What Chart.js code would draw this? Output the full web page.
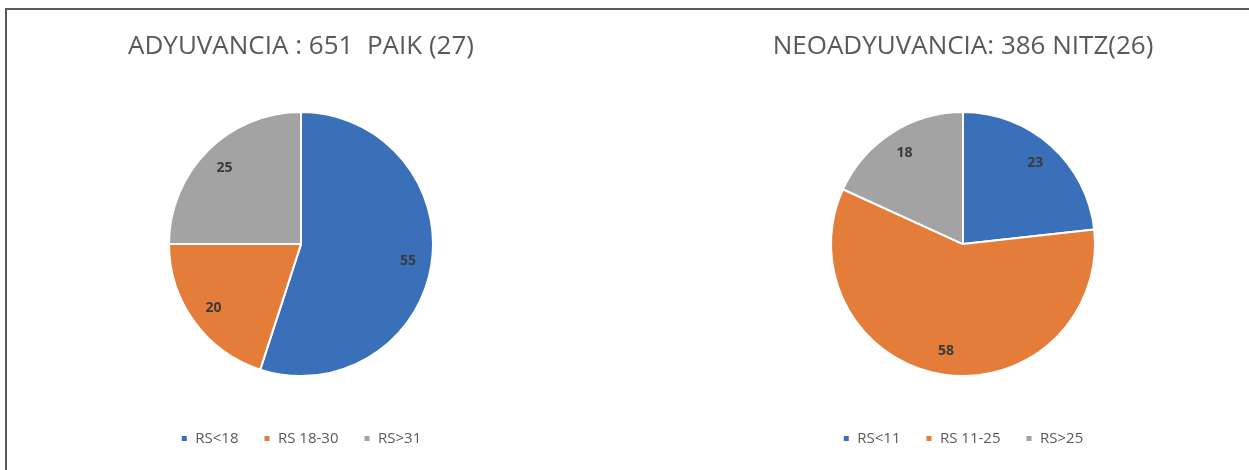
<!DOCTYPE html>
<html>
<head>
<meta charset="utf-8">
<script src="https://cdn.jsdelivr.net/npm/chart.js@4"></script>
<style>
  html, body { margin: 0; padding: 0; background: #fff; }
  body { width: 1249px; height: 470px; position: relative; overflow: hidden; }
  #marco {
    position: absolute; left: 5px; top: 8px; right: 0; bottom: 0;
    border-top: 2px solid #5a5a5a; border-left: 2px solid #5a5a5a;
  }
  canvas { position: absolute; top: 10px; }
  #pieAdy { left: 21px; }
  #pieNeo { left: 683px; }
</style>
</head>
<body>
<div id="marco"></div>
<canvas id="pieAdy" width="560" height="446"></canvas>
<canvas id="pieNeo" width="560" height="446"></canvas>
<script>
// Datos
const adyLabels = ['RS<18', 'RS 18-30', 'RS>31'];
const adyValues = [55, 20, 25];
const neoLabels = ['RS<11', 'RS 11-25', 'RS>25'];
const neoValues = [23, 58, 18];
const titulos = ['ADYUVANCIA : 651  PAIK (27)', 'NEOADYUVANCIA: 386 NITZ(26)'];
const colores = ['#3a70ba', '#e57d3a', '#a3a3a3'];

const fuente = "'Open Sans', 'Liberation Sans', sans-serif";

// Etiquetas de valor dentro de cada sector
const etiquetasValor = {
    id: 'etiquetasValor',
    afterDatasetsDraw(chart) {
        const ctx = chart.ctx;
        const meta = chart.getDatasetMeta(0);
        const data = chart.data.datasets[0].data;
        ctx.save();
        ctx.font = 'bold 14px ' + fuente;
        ctx.fillStyle = '#3a3a3a';
        ctx.textAlign = 'center';
        ctx.textBaseline = 'middle';
        meta.data.forEach((arc, i) => {
            const p = arc.getProps(['x', 'y', 'startAngle', 'endAngle', 'outerRadius'], true);
            const a = (p.startAngle + p.endAngle) / 2;
            const r = p.outerRadius * 0.82;
            ctx.fillText(String(data[i]), p.x + Math.cos(a) * r, p.y + Math.sin(a) * r);
        });
        ctx.restore();
    }
};

function crearPie(id, labels, values, titulo) {
    const ctx = document.getElementById(id).getContext('2d');
    return new Chart(ctx, {
        type: 'pie',
        data: {
            labels: labels,
            datasets: [{
                data: values,
                backgroundColor: colores,
                borderColor: '#ffffff',
                borderWidth: 2,
                radius: 132
            }]
        },
        options: {
            responsive: false,
            animation: false,
            layout: { padding: 0 },
            plugins: {
                title: {
                    display: true,
                    text: titulo,
                    color: '#595959',
                    font: { family: fuente, size: 26, weight: 'normal', lineHeight: 1.2 },
                    padding: { top: 21, bottom: 20 }
                },
                legend: {
                    position: 'bottom',
                    labels: {
                        color: '#595959',
                        font: { family: fuente, size: 15 },
                        boxWidth: 7,
                        boxHeight: 7,
                        padding: 25
                    }
                },
                tooltip: { enabled: false }
            }
        },
        plugins: [etiquetasValor]
    });
}

crearPie('pieAdy', adyLabels, adyValues, titulos[0]);
crearPie('pieNeo', neoLabels, neoValues, titulos[1]);
</script>
</body>
</html>
